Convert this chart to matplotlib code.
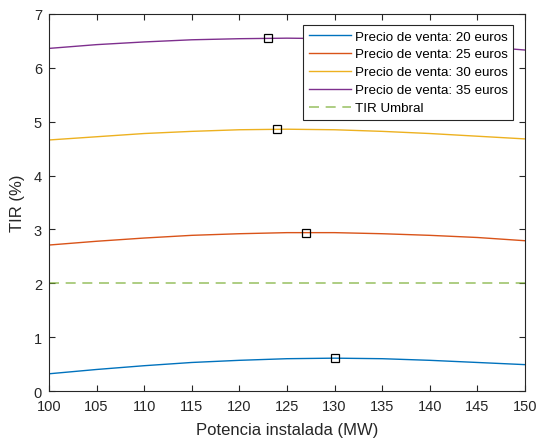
import matplotlib
matplotlib.use("Agg")
import matplotlib.pyplot as plt

plt.rcParams['font.family'] = ['Liberation Sans', 'DejaVu Sans']

potencia = [100, 105, 110, 115, 120, 125, 130, 135, 140, 145, 150]
tir_20 = [0.32, 0.40, 0.47, 0.53, 0.57, 0.60, 0.61, 0.60, 0.57, 0.53, 0.49]
tir_25 = [2.71, 2.78, 2.84, 2.89, 2.92, 2.94, 2.94, 2.92, 2.89, 2.85, 2.79]
tir_30 = [4.66, 4.72, 4.78, 4.82, 4.85, 4.86, 4.85, 4.82, 4.78, 4.73, 4.68]
tir_35 = [6.36, 6.43, 6.48, 6.52, 6.54, 6.55, 6.54, 6.51, 6.46, 6.40, 6.33]
tir_umbral = 2.0
max_x = [130, 127, 124, 123]
max_y = [0.61, 2.94, 4.86, 6.55]
labels = ['Precio de venta: 20 euros', 'Precio de venta: 25 euros',
          'Precio de venta: 30 euros', 'Precio de venta: 35 euros', 'TIR Umbral']
xticks = list(range(100, 151, 5))
yticks = list(range(0, 8))

colors = [(0, 0.447, 0.741), (0.85, 0.325, 0.098), (0.929, 0.694, 0.125),
          (0.494, 0.184, 0.556)]
green = (0.466, 0.674, 0.188)

fig = plt.figure(figsize=(5.36, 4.39), dpi=100)
ax = fig.add_axes([0.0914, 0.107, 0.888, 0.859])

for ys, c, lab in zip([tir_20, tir_25, tir_30, tir_35], colors, labels[:4]):
    ax.plot(potencia, ys, color=c, lw=1.0, label=lab)
ax.plot([potencia[0], potencia[-1]], [tir_umbral, tir_umbral], color=green,
        lw=1.2, ls=(0, (6, 4)), alpha=0.7, label=labels[4])
ax.plot(max_x, max_y, ls='none', marker='s', ms=5.5, mfc='none', mec='black', mew=0.9)

ax.set_xlim(100, 150)
ax.set_ylim(0, 7)
ax.set_xticks(xticks)
ax.set_yticks(yticks)
axc = (0.15, 0.15, 0.15)
for s in ax.spines.values():
    s.set_color(axc)
    s.set_linewidth(0.8)
ax.tick_params(direction='in', top=True, right=True, colors=axc, labelsize=10.5, length=4)
ax.tick_params(axis='x', pad=6)
ax.tick_params(axis='y', pad=5)
ax.set_xlabel('Potencia instalada (MW)', fontsize=12, color=axc, labelpad=6)
ax.set_ylabel('TIR (%)', fontsize=12, color=axc, labelpad=6)

leg = ax.legend(loc='upper right', bbox_to_anchor=(0.975, 0.971), fontsize=9.6,
                frameon=True, fancybox=False, edgecolor=axc, framealpha=1,
                handlelength=3.2, handletextpad=0.25, borderpad=0.4,
                labelspacing=0.42, borderaxespad=0)
leg.get_frame().set_linewidth(0.8)

fig.savefig('out.png', dpi=100)
